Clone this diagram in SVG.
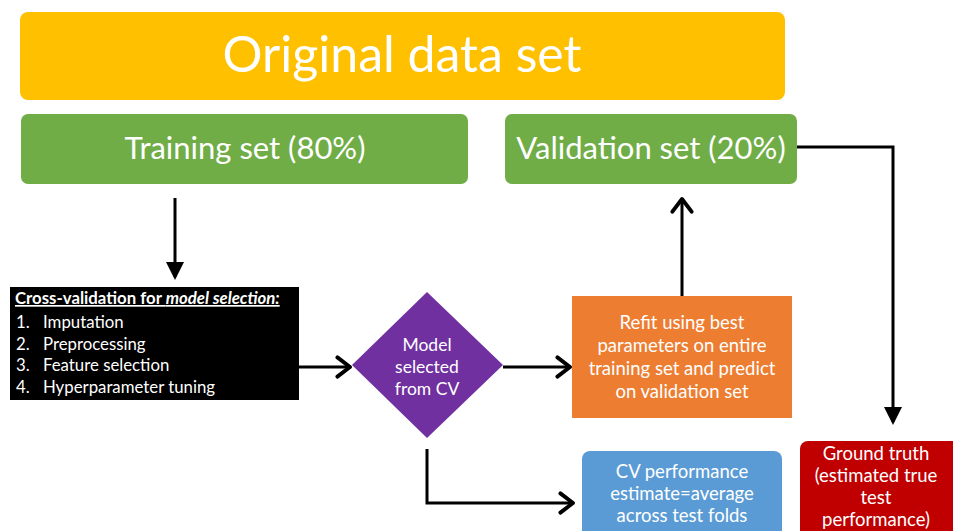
<svg xmlns="http://www.w3.org/2000/svg" width="953" height="531" viewBox="0 0 953 531">
<style>
text{font-family:Lato,"Open Sans","Liberation Sans",sans-serif;fill:#fff;}
.c{text-anchor:middle;}
.m{font-size:18.5px;}
.d{font-size:17.5px;}
.b{font-size:16.8px;}
.ln{fill:none;stroke:#000;stroke-width:3;}
</style>
<defs>
<marker id="tri" markerWidth="6" markerHeight="6" refX="5" refY="3" orient="auto" markerUnits="strokeWidth">
<path d="M0,0 L6,3 L0,6 Z" fill="#000"/>
</marker>
<marker id="open" markerWidth="6" markerHeight="8" refX="5" refY="4" orient="auto" markerUnits="strokeWidth">
<path d="M0.8,0.8 L5,4 L0.8,7.2" fill="none" stroke="#000" stroke-width="1.3" stroke-linecap="round" stroke-linejoin="round"/>
</marker>
</defs>
<rect width="953" height="531" fill="#fff"/>
<g id="connectors">
<line class="ln" x1="175" y1="198" x2="175" y2="277" marker-end="url(#tri)"/>
<line class="ln" x1="299" y1="367" x2="350" y2="367" marker-end="url(#open)"/>
<line class="ln" x1="503" y1="367" x2="570" y2="367" marker-end="url(#open)"/>
<line class="ln" x1="682" y1="296" x2="682" y2="199" marker-end="url(#open)"/>
<polyline class="ln" points="797,147 893,147 893,422" marker-end="url(#tri)"/>
<polyline class="ln" points="427,449 427,503 573,503" marker-end="url(#open)"/>
</g>
<g id="original">
<rect x="20" y="12" width="765" height="88" rx="8" fill="#FFC000"/>
<text class="c" x="402" y="72" font-size="50">Original data set</text>
</g>
<g id="training">
<rect x="21" y="114" width="447" height="70" rx="7" fill="#70AD47"/>
<text class="c" x="245" y="159" font-size="31">Training set (80%)</text>
</g>
<g id="validation">
<rect x="505" y="114" width="292" height="70" rx="7" fill="#70AD47"/>
<text class="c" x="651" y="159" font-size="31">Validation set (20%)</text>
</g>
<g id="cv">
<rect x="10" y="287" width="289" height="113" fill="#000"/>
<text x="15" y="304" class="b" font-weight="bold" text-decoration="underline">Cross-validation for <tspan font-style="italic">model selection:</tspan></text>
<text x="16" y="328" class="b">1.</text><text x="43" y="328" class="b">Imputation</text>
<text x="16" y="350" class="b">2.</text><text x="43" y="350" class="b">Preprocessing</text>
<text x="16" y="371" class="b">3.</text><text x="43" y="371" class="b">Feature selection</text>
<text x="16" y="393" class="b">4.</text><text x="43" y="393" class="b">Hyperparameter tuning</text>
</g>
<g id="model">
<polygon points="427,292 503,365 427,438 352,365" fill="#7030A0"/>
<text class="c d" x="427" y="351">Model</text>
<text class="c d" x="427" y="373">selected</text>
<text class="c d" x="427" y="395">from CV</text>
</g>
<g id="refit">
<rect x="572" y="296" width="220" height="122" fill="#ED7D31"/>
<text class="c m" x="682" y="329">Refit using best</text>
<text class="c m" x="682" y="352">parameters on entire</text>
<text class="c m" x="682" y="375">training set and predict</text>
<text class="c m" x="682" y="398">on validation set</text>
</g>
<g id="cvperf">
<rect x="582" y="451" width="200" height="90" rx="8" fill="#5B9BD5"/>
<text class="c m" x="682" y="478">CV performance</text>
<text class="c m" x="682" y="500">estimate=average</text>
<text class="c m" x="682" y="522">across test folds</text>
</g>
<g id="ground">
<rect x="800" y="441" width="163" height="100" rx="8" fill="#C00000"/>
<text class="c m" x="876" y="460">Ground truth</text>
<text class="c m" x="876" y="482">(estimated true</text>
<text class="c m" x="876" y="504">test</text>
<text class="c m" x="876" y="526">performance)</text>
</g>
</svg>
